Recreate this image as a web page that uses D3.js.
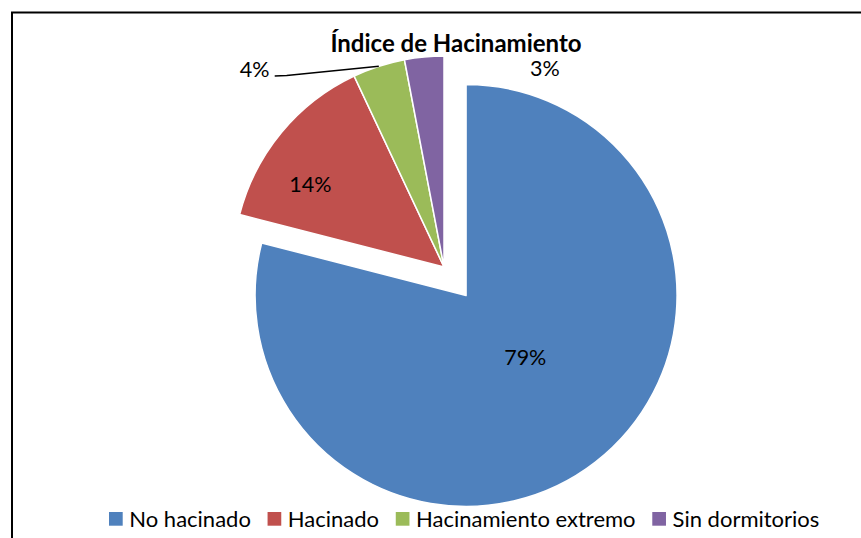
<!DOCTYPE html>
<html>
<head>
<meta charset="utf-8">
<script src="https://cdn.jsdelivr.net/npm/d3@7"></script>
<style>
  html, body { margin: 0; padding: 0; background: #fff; }
  svg { display: block; }
  text { font-family: Lato, "Open Sans", sans-serif; fill: #000; }
</style>
</head>
<body>
<svg id="chart" width="861" height="538"></svg>
<script>
// Housing overcrowding index: share of households per category
const categories = ["No hacinado", "Hacinado", "Hacinamiento extremo", "Sin dormitorios"];
const values = [79, 14, 4, 3];
const valueLabels = ["79%", "14%", "4%", "3%"];
const colors = ["#4F81BD", "#C0504D", "#9BBB59", "#8064A2"];
const title = "Índice de Hacinamiento";

const svg = d3.select("#chart");

// chart frame (runs off the right and bottom edges)
svg.append("rect")
  .attr("x", 12).attr("y", 12.5)
  .attr("width", 900).attr("height", 600)
  .attr("fill", "none").attr("stroke", "#000").attr("stroke-width", 2);

// title
svg.append("text")
  .attr("x", 456).attr("y", 51.5)
  .attr("text-anchor", "middle")
  .attr("font-size", 24).attr("font-weight", "bold")
  .text(title);

// pie geometry
const cx = 444, cy = 267, R = 211;
const explode = [36, 0, 0, 0];

const pie = d3.pie().sort(null).value(d => d).startAngle(0).endAngle(2 * Math.PI);
const arcs = pie(values);
const arc = d3.arc().innerRadius(0).outerRadius(R);

const g = svg.append("g").attr("transform", `translate(${cx},${cy})`);

function offset(d, i) {
  const a = (d.startAngle + d.endAngle) / 2;
  return [explode[i] * Math.sin(a), -explode[i] * Math.cos(a)];
}

g.selectAll("path.slice")
  .data(arcs)
  .join("path")
  .attr("class", "slice")
  .attr("d", arc)
  .attr("transform", (d, i) => { const o = offset(d, i); return `translate(${o[0]},${o[1]})`; })
  .attr("fill", (d, i) => colors[i])
  .attr("stroke", "#fff")
  .attr("stroke-width", 1.5)
  .attr("stroke-linejoin", "round");

// data labels: polar placement relative to each slice's own centre
// [radius, angle in degrees clockwise from 12 o'clock]
const labelPolar = [[86, 136.5], [157, 301.7], [null, null], [222.3, 27]];
const labelFont = 21.5;
arcs.forEach((d, i) => {
  const o = offset(d, i);
  let x, y;
  if (labelPolar[i][0] !== null) {
    const a = labelPolar[i][1] * Math.PI / 180;
    x = o[0] + labelPolar[i][0] * Math.sin(a);
    y = o[1] - labelPolar[i][0] * Math.cos(a);
  } else {
    // outside label with a leader line back to the slice edge
    const mid = (d.startAngle + d.endAngle) / 2;
    const ex = R * Math.sin(mid), ey = -R * Math.cos(mid);
    x = 254.7 - cx; y = 69 - cy;
    const line = d3.line().curve(d3.curveLinear);
    g.append("path")
      .attr("d", line([[x + 20, y + 7], [x + 32, y + 6.5], [ex, ey]]))
      .attr("fill", "none").attr("stroke", "#000").attr("stroke-width", 1.5);
  }
  g.append("text")
    .attr("x", x).attr("y", y + 7.5)
    .attr("text-anchor", "middle")
    .attr("font-size", labelFont)
    .text(valueLabels[i]);
});

// legend along the bottom
const legend = svg.append("g").attr("transform", "translate(109,0)");
let lx = 0;
categories.forEach((c, i) => {
  const item = legend.append("g").attr("transform", `translate(${lx},0)`);
  item.append("rect")
    .attr("x", 0).attr("y", 512)
    .attr("width", 13.7).attr("height", 13.7)
    .attr("fill", colors[i]);
  const t = item.append("text")
    .attr("x", 20.3).attr("y", 526.5)
    .attr("font-size", 22)
    .text(c);
  lx += 20.3 + t.node().getComputedTextLength() + 16.7;
});
</script>
</body>
</html>
